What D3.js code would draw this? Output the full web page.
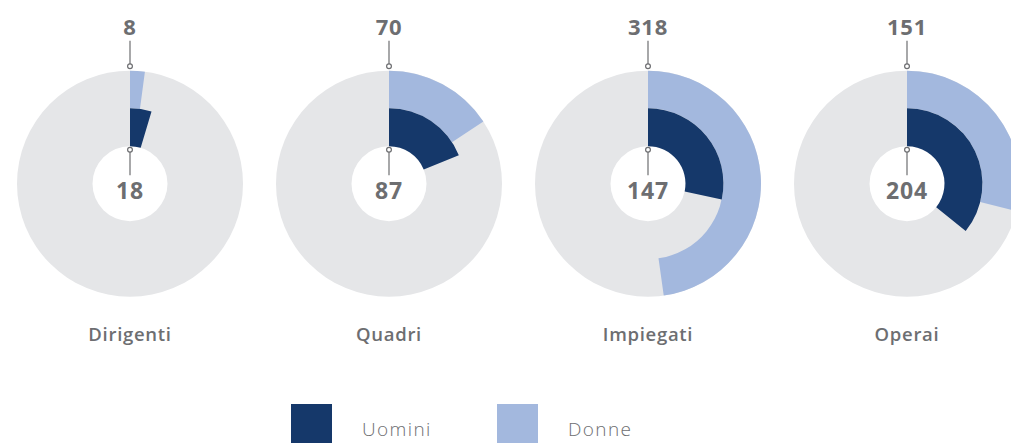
<!DOCTYPE html>
<html>
<head>
<meta charset="utf-8">
<script src="https://cdn.jsdelivr.net/npm/d3@7"></script>
<style>
  html, body { margin: 0; padding: 0; background: #fff; overflow: hidden; }
  svg { display: block; }
  text { font-family: "Open Sans", Lato, sans-serif; fill: #6d6e71; }
</style>
</head>
<body>
<svg id="chart" width="1011" height="443"></svg>
<script>
// Headcount by role, split by gender
const categories = ["Dirigenti", "Quadri", "Impiegati", "Operai"];
const uomini = [18, 87, 147, 204];
const donne = [8, 70, 318, 151];
const seriesNames = ["Uomini", "Donne"];

const colors = { uomini: "#15386a", donne: "#a3b8de", track: "#e5e6e8" };

const svg = d3.select("#chart");

// Each role gets its own radial panel
const x = d3.scalePoint().domain(categories).range([130, 907]);
const cy = 183.7;

const rHole = 37.5, rMid = 75.4, rOuter = 113;

// Angular scale shared by both rings (compressed for large counts)
const angle = d3.scaleSymlog().constant(165)
  .domain([0, 318])
  .range([0, 172 * Math.PI / 180]);

const arc = d3.arc();

categories.forEach((cat, i) => {
  const g = svg.append("g").attr("transform", `translate(${x(cat)},${cy})`);

  // background track
  g.append("path")
    .attr("d", arc({ innerRadius: rHole, outerRadius: rOuter, startAngle: 0, endAngle: 2 * Math.PI }))
    .attr("fill", colors.track);

  // outer ring: Donne
  g.append("path")
    .attr("d", arc({ innerRadius: rMid, outerRadius: rOuter, startAngle: 0, endAngle: angle(donne[i]) }))
    .attr("fill", colors.donne);

  // inner ring: Uomini
  g.append("path")
    .attr("d", arc({ innerRadius: rHole, outerRadius: rMid, startAngle: 0, endAngle: angle(uomini[i]) }))
    .attr("fill", colors.uomini);

  // leader for the outer value
  g.append("line")
    .attr("x1", 0).attr("x2", 0)
    .attr("y1", -143).attr("y2", -119.5)
    .attr("stroke", "#6d6e71").attr("stroke-width", 1.2);
  g.append("circle")
    .attr("cx", 0).attr("cy", -117.4).attr("r", 2.4)
    .attr("fill", "#fff").attr("stroke", "#6d6e71").attr("stroke-width", 1.2);
  g.append("text")
    .attr("x", 0).attr("y", -148.5)
    .attr("text-anchor", "middle")
    .attr("font-size", 22).attr("font-weight", 700)
    .attr("letter-spacing", 0.8)
    .text(donne[i]);

  // leader for the inner value
  g.append("line")
    .attr("x1", 0).attr("x2", 0)
    .attr("y1", -31.6).attr("y2", -8.5)
    .attr("stroke", "#6d6e71").attr("stroke-width", 1.2);
  g.append("circle")
    .attr("cx", 0).attr("cy", -34).attr("r", 2.4)
    .attr("fill", "#fff").attr("stroke", "#6d6e71").attr("stroke-width", 1.2);
  g.append("text")
    .attr("x", 0).attr("y", 15.5)
    .attr("text-anchor", "middle")
    .attr("font-size", 23).attr("font-weight", 700)
    .attr("letter-spacing", 0.8)
    .text(uomini[i]);

  // category name
  svg.append("text")
    .attr("x", x(cat)).attr("y", 341)
    .attr("text-anchor", "middle")
    .attr("font-size", 18.5).attr("font-weight", 600)
    .attr("letter-spacing", 0.7)
    .text(cat);
});

// legend
const legendX = d3.scalePoint().domain(seriesNames).range([291, 497]);
const legendColors = [colors.uomini, colors.donne];
seriesNames.forEach((name, i) => {
  const lx = legendX(name);
  svg.append("rect")
    .attr("x", lx).attr("y", 404)
    .attr("width", 41).attr("height", 41)
    .attr("fill", legendColors[i]);
  svg.append("text")
    .attr("x", lx + 71).attr("y", 435.5)
    .attr("font-size", 19).attr("font-weight", 300)
    .attr("letter-spacing", 1.4)
    .text(name);
});
</script>
</body>
</html>
